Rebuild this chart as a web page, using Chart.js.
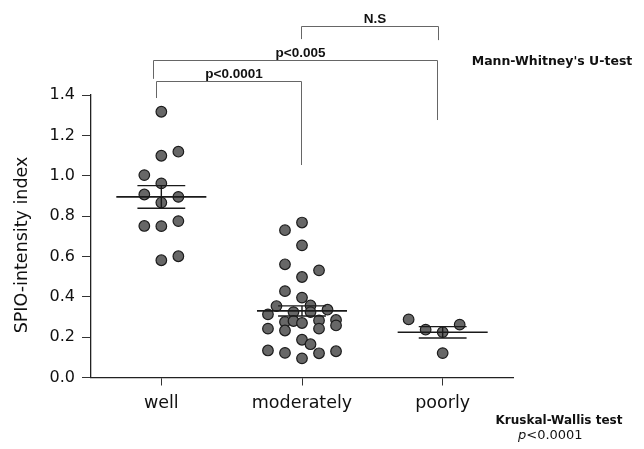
<!DOCTYPE html>
<html>
<head>
<meta charset="utf-8">
<script src="https://cdn.jsdelivr.net/npm/chart.js@4.4.1/dist/chart.umd.min.js"></script>
<style>
  html, body { margin: 0; padding: 0; background: #fff; }
</style>
</head>
<body>
<canvas id="chart" width="644" height="449"></canvas>
<script>
// categories and y ticks
const categories = ["well", "moderately", "poorly"];
const yTicks = [0, 0.2, 0.4, 0.6, 0.8, 1.0, 1.2, 1.4];

// individual values (slot = horizontal jitter column of the dot)
const wellValues = [1.317, 1.099, 1.119, 1.003, 0.962, 0.907, 0.895, 0.867, 0.751, 0.750, 0.775, 0.581, 0.601];
const wellSlots  = [0, 0, 1, -1, 0, -1, 1, 0, -1, 0, 1, 0, 1];

const moderatelyValues = [0.768, 0.730, 0.655, 0.561, 0.531, 0.498, 0.428, 0.396, 0.354, 0.357,
                          0.324, 0.336, 0.313, 0.324, 0.275, 0.280, 0.270, 0.283, 0.242, 0.285,
                          0.258, 0.242, 0.233, 0.187, 0.165, 0.134, 0.122, 0.095, 0.120, 0.130];
const moderatelySlots  = [0, -1, 0, -1, 1, 0, -1, 0, -1.5, 0.5,
                          0.5, 1.5, -2, -0.5, -1, -0.5, 0, 1, 1, 2,
                          2, -2, -1, 0, 0.5, -2, -1, 0, 1, 2];

const poorlyValues = [0.288, 0.237, 0.225, 0.262, 0.121];
const poorlySlots  = [-2, -1, 0, 1, 0];

// mean and SEM per group
const means = [0.895, 0.330, 0.224];
const sems  = [0.056, 0.025, 0.028];

// significance brackets (y in data units)
const brackets = [
  { x1: -0.04, x2: 0.99, y: 1.471, leg1: 1.385, leg2: 1.053, label: "p<0.0001" },
  { x1: -0.06, x2: 1.96, y: 1.574, leg1: 1.48,  leg2: 1.276, label: "p<0.005" },
  { x1: 0.99,  x2: 1.97, y: 1.744, leg1: 1.677, leg2: 1.672, label: "N.S" }
];

const FONT = "'DejaVu Sans', Verdana, sans-serif";
const FONT_NARROW = "'Liberation Sans', Arial, Helvetica, sans-serif";
const SLOT = 0.121;
const groups = [
  [wellValues, wellSlots],
  [moderatelyValues, moderatelySlots],
  [poorlyValues, poorlySlots]
];

const datasets = [];
groups.forEach(([vals, slots], i) => {
  datasets.push({
    type: "scatter",
    data: vals.map((v, k) => ({ x: i + slots[k] * SLOT, y: v })),
    pointRadius: 5.3,
    pointBackgroundColor: "#676767",
    pointBorderColor: "#1c1c1c",
    pointBorderWidth: 1.2,
    order: 2
  });
});

const lineStyle = { type: "line", showLine: true, pointRadius: 0, borderColor: "#1a1a1a", fill: false, order: 1 };
means.forEach((m, i) => {
  datasets.push(Object.assign({}, lineStyle, {
    borderWidth: 1.6,
    data: [{ x: i - 0.32, y: m }, { x: i + 0.32, y: m }]
  }));
  datasets.push(Object.assign({}, lineStyle, {
    borderWidth: 1.4,
    data: [{ x: i - 0.17, y: m + sems[i] }, { x: i + 0.17, y: m + sems[i] }]
  }));
  datasets.push(Object.assign({}, lineStyle, {
    borderWidth: 1.4,
    data: [{ x: i - 0.17, y: m - sems[i] }, { x: i + 0.17, y: m - sems[i] }]
  }));
  datasets.push(Object.assign({}, lineStyle, {
    borderWidth: 1.4,
    data: [{ x: i, y: m - sems[i] }, { x: i, y: m + sems[i] }]
  }));
});

const annotations = {
  id: "annotations",
  afterDraw(chart) {
    const ctx = chart.ctx;
    const xs = chart.scales.x, ys = chart.scales.y;
    ctx.save();

    // brackets
    ctx.strokeStyle = "#666";
    ctx.lineWidth = 1;
    ctx.fillStyle = "#111";
    ctx.font = "bold 13.5px " + FONT_NARROW;
    ctx.textAlign = "center";
    ctx.textBaseline = "alphabetic";
    brackets.forEach(b => {
      const x1 = Math.round(xs.getPixelForValue(b.x1)) + 0.5;
      const x2 = Math.round(xs.getPixelForValue(b.x2)) + 0.5;
      const y = Math.round(ys.getPixelForValue(b.y)) + 0.5;
      ctx.beginPath();
      ctx.moveTo(x1, ys.getPixelForValue(b.leg1));
      ctx.lineTo(x1, y);
      ctx.lineTo(x2, y);
      ctx.lineTo(x2, ys.getPixelForValue(b.leg2));
      ctx.stroke();
      ctx.fillText(b.label, (x1 + x2) / 2 + 5, y - 4);
    });

    // y axis title
    ctx.save();
    ctx.translate(22, 245);
    ctx.rotate(-Math.PI / 2);
    ctx.font = "17.5px " + FONT;
    ctx.textBaseline = "middle";
    ctx.fillText("SPIO-intensity index", 0, 0);
    ctx.restore();

    // test notes
    ctx.textBaseline = "middle";
    ctx.font = "bold 12.5px " + FONT;
    ctx.fillText("Mann-Whitney's U-test", 552, 62);
    ctx.font = "bold 12px " + FONT;
    ctx.fillText("Kruskal-Wallis test", 559, 421);
    ctx.textAlign = "left";
    ctx.font = "oblique 13px " + FONT;
    ctx.fillText("p", 518, 436);
    const pw = ctx.measureText("p").width;
    ctx.font = "13px " + FONT;
    ctx.fillText("<0.0001", 518 + pw, 436);
    ctx.restore();
  }
};

new Chart(document.getElementById("chart"), {
  data: { datasets },
  options: {
    responsive: false,
    animation: false,
    devicePixelRatio: 1,
    layout: { padding: { top: 95, right: 131, left: 0, bottom: 0 } },
    plugins: { legend: { display: false }, tooltip: { enabled: false } },
    scales: {
      x: {
        type: "linear",
        min: -0.5,
        max: 2.5,
        afterBuildTicks: s => { s.ticks = categories.map((_, i) => ({ value: i })); },
        afterFit: s => { s.height = 71.5; },
        ticks: {
          callback: v => categories[v],
          color: "#111",
          font: { family: FONT, size: 17.5 },
          padding: 7,
          maxRotation: 0
        },
        grid: { drawOnChartArea: false, drawTicks: true, tickLength: 8, color: "#333" },
        border: { display: true, color: "#222", width: 1.3 }
      },
      y: {
        min: 0,
        max: 1.4,
        afterBuildTicks: s => { s.ticks = yTicks.map(v => ({ value: v })); },
        afterFit: s => { s.width = 91; },
        ticks: {
          callback: v => v.toFixed(1),
          color: "#111",
          font: { family: FONT, size: 16 },
          padding: 7
        },
        grid: { drawOnChartArea: false, drawTicks: true, tickLength: 9, color: "#333" },
        border: { display: true, color: "#222", width: 1.3 }
      }
    }
  },
  plugins: [annotations]
});
</script>
</body>
</html>
